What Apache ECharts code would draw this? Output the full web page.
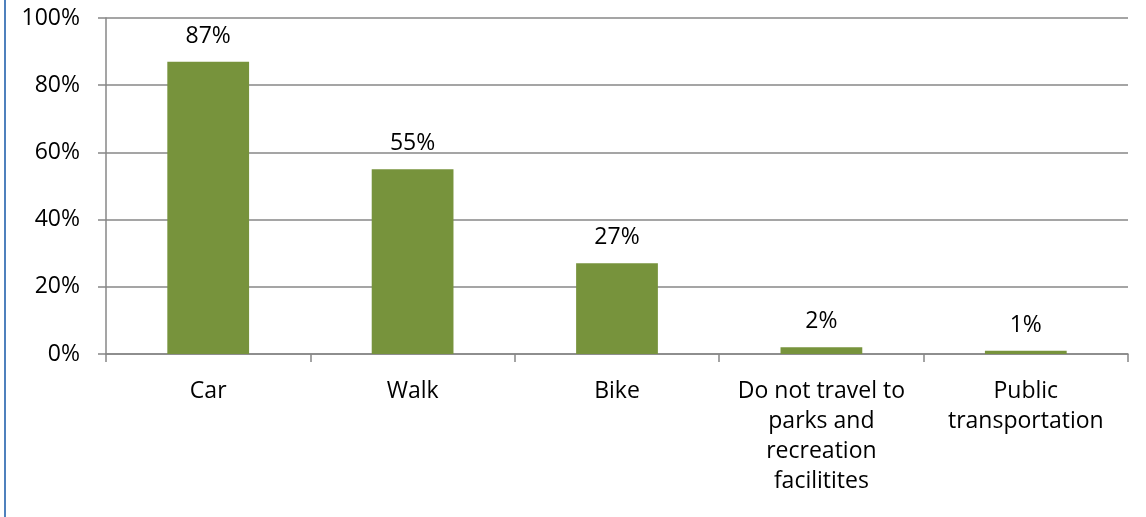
<!DOCTYPE html>
<html>
<head>
<meta charset="utf-8">
<script src="https://cdn.jsdelivr.net/npm/echarts@6/dist/echarts.min.js"></script>
<style>
  html, body { margin: 0; padding: 0; background: #fff; }
  #chart { width: 1146px; height: 517px; }
</style>
</head>
<body>
<div id="chart"></div>
<script>
// categories and values
const modes = [
  'Car',
  'Walk',
  'Bike',
  'Do not travel to\nparks and\nrecreation\nfacilitites',
  'Public\ntransportation',
];
const shares = [87, 55, 27, 2, 1];
const yTicks = { min: 0, max: 100, step: 20 };

const font = '"Open Sans", "Noto Sans", sans-serif';
const gridGrey = '#878787';
const textSize = 23;

const chart = echarts.init(document.getElementById('chart'));

chart.setOption({
  animation: false,
  textStyle: { fontFamily: font },
  graphic: [
    {
      type: 'rect',
      shape: { x: 4, y: 0, width: 2, height: 517 },
      style: { fill: '#4F81BD' },
    },
  ],
  grid: {
    left: 106,
    right: 18,
    top: 18,
    bottom: 163,
  },
  xAxis: {
    type: 'category',
    data: modes,
    axisLine: { lineStyle: { color: gridGrey, width: 1.5 } },
    axisTick: {
      show: true,
      length: 8,
      lineStyle: { color: gridGrey, width: 1.5 },
    },
    axisLabel: {
      color: '#000',
      fontFamily: font,
      fontSize: textSize,
      lineHeight: 30,
      margin: 22,
      interval: 0,
      align: 'center',
    },
  },
  yAxis: {
    type: 'value',
    min: yTicks.min,
    max: yTicks.max,
    interval: yTicks.step,
    axisLine: { show: true, lineStyle: { color: gridGrey, width: 1.5 } },
    axisTick: {
      show: true,
      length: 8,
      lineStyle: { color: gridGrey, width: 1.5 },
    },
    splitLine: { lineStyle: { color: gridGrey, width: 1.5 } },
    axisLabel: {
      color: '#000',
      fontFamily: font,
      fontSize: textSize,
      margin: 26,
      formatter: '{value}%',
    },
  },
  series: [
    {
      type: 'bar',
      data: shares,
      barWidth: '40%',
      itemStyle: { color: '#77933C' },
      label: {
        show: true,
        position: 'top',
        distance: 14,
        color: '#000',
        fontFamily: font,
        fontSize: textSize,
        formatter: '{c}%',
      },
    },
  ],
});
</script>
</body>
</html>
